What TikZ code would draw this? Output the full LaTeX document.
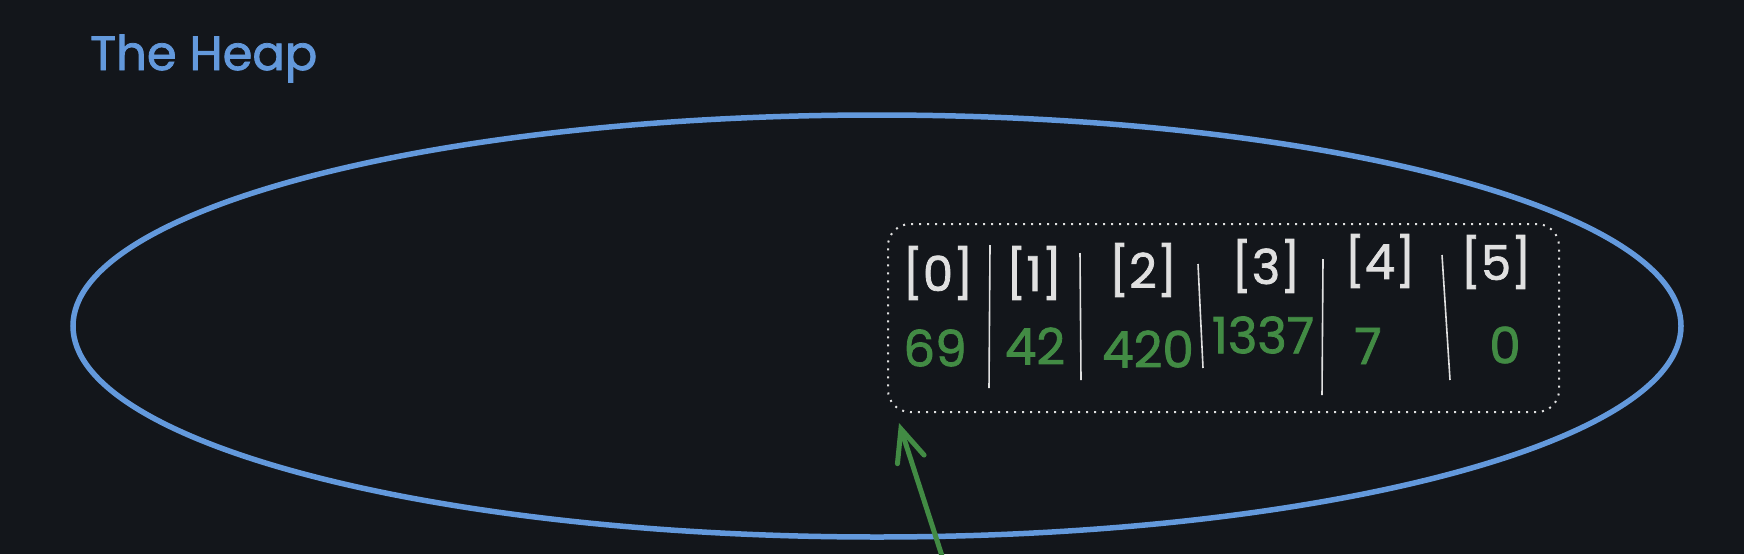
\documentclass[tikz,border=0pt]{standalone}
\usepackage{fontspec}
\setmainfont{Poppins}[FakeBold=1.6]
\usetikzlibrary{positioning,arrows.meta}
\usepackage{xcolor}

\definecolor{bgdark}{RGB}{19,22,27}
\definecolor{heapblue}{RGB}{99,153,220}
\definecolor{valgreen}{RGB}{66,139,68}
\definecolor{idxwhite}{RGB}{224,224,224}

\tikzset{
    idx/.style={text=idxwhite, font=\fontsize{48}{54}\selectfont, inner sep=0pt},
    val/.style={text=valgreen, font=\fontsize{50}{56}\selectfont, inner sep=0pt},
    sepline/.style={draw=idxwhite, line width=1.6pt},
}

\begin{document}
\begin{tikzpicture}[x=1pt,y=-1pt]
        % Background and page size
        \fill[bgdark] (0,0) rectangle (1744,554);
        \useasboundingbox (0,0) rectangle (1744,554);

        % Title
        \node[anchor=base west, text=heapblue, inner sep=0pt,
              font=\fontsize{48}{54}\selectfont] (title) at (90,70) {The Heap};

        % The heap itself
        \draw[heapblue, line width=5.5pt] (877,326) ellipse [x radius=804, y radius=211];

        % Dotted box holding the array
        \node[draw=idxwhite, line width=2pt, dash pattern=on 2pt off 6pt,
              rounded corners=22pt, minimum width=671pt, minimum height=188pt]
              (arr) at (1223.5,318) {};

        % Indices and values, one column per cell
        \foreach \i/\ix/\iy/\vx/\vy/\v in {0/938/273/935/348/69,
                                            1/1034/273/1035/346/42,
                                            2/1143/270/1148/349/420,
                                            3/1266/266/1263/335/1337,
                                            4/1380/261/1368/346/7,
                                            5/1496/262/1505/345/0} {
            \node[idx] (i\i) at (\ix,\iy) {[\i]};
            \node[val] (v\i) at (\vx,\vy) {\v};
        }

        % Hand drawn separators between the cells
        \foreach \xa/\ya/\xb/\yb in {990/245/989/388, 1080/253/1081/380,
                                     1198/264/1203/368, 1323/259/1322/395,
                                     1442/255/1450/380} {
            \draw[sepline] (\xa,\ya) -- (\xb,\yb);
        }

        % Pointer into the heap
        \coordinate (ptr) at (942,556);
        \draw[valgreen, line width=5pt, line cap=round,
              -{Straight Barb[length=32pt,width=28pt,line cap=round]}]
              (ptr) -- ([shift={(12,10)}]arr.south west);
\end{tikzpicture}
\end{document}
